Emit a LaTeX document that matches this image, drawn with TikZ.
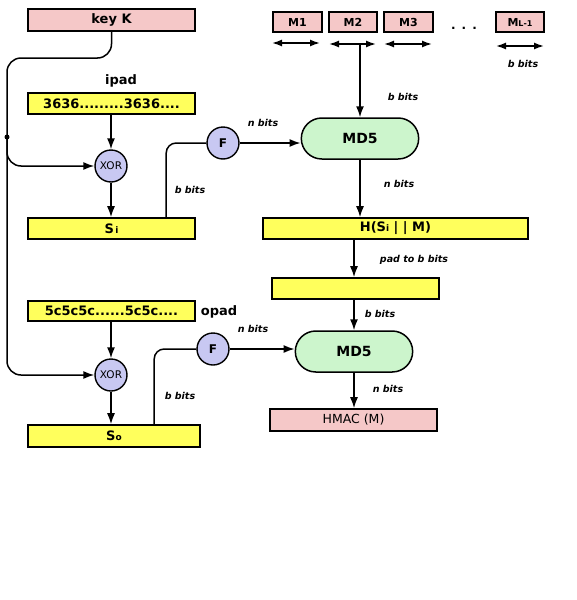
\documentclass[tikz,border=0pt]{standalone}
\usepackage{fontspec}
\setmainfont{DejaVu Sans}
\usetikzlibrary{arrows.meta,shapes.misc,calc}
\definecolor{pinkbox}{HTML}{F5C8C8}
\definecolor{yelbox}{HTML}{FFFF5C}
\definecolor{grnbox}{HTML}{CCF5CC}
\definecolor{lavc}{HTML}{C8C8F2}
\tikzset{
  box/.style={draw, line width=1.6pt, inner sep=0pt, font=\bfseries\fontsize{13}{15}\selectfont},
  ybox/.style={box, fill=yelbox},
  pbox/.style={box, fill=pinkbox},
  md/.style={draw, line width=1.5pt, rounded rectangle, fill=grnbox, minimum width=124pt, minimum height=41pt, font=\bfseries\fontsize{14}{16}\selectfont},
  circ/.style={draw, line width=1.4pt, circle, fill=lavc, minimum size=32pt, inner sep=0pt},
  lbl/.style={font=\bfseries\itshape\fontsize{9.5}{11}\selectfont},
  big/.style={font=\bfseries\fontsize{13}{15}\selectfont},
  mbox/.style={pbox, minimum height=20pt, font=\bfseries\fontsize{11}{13}\selectfont},
  tip/.style={-{Latex[length=11pt,width=8pt]}},
  arr/.style={line width=1.5pt, tip},
  darr/.style={line width=1.5pt, {Latex[length=10pt,width=7pt]}-{Latex[length=10pt,width=7pt]}},
  ln/.style={line width=1.5pt}
}
\begin{document}
\begin{tikzpicture}[x=1pt,y=-1pt]
\useasboundingbox[fill=white] (0,0) rectangle (576,600);
% left column
\node[pbox, minimum width=167pt, minimum height=22pt] (keyK) at (111.5,20) {key K};
\node[big] (ipad) at (121,81) {ipad};
\node[ybox, minimum width=167pt, minimum height=21pt] (ipadbox) at (111.5,103.5) {3636.........3636....};
\node[circ, font=\fontsize{10.5}{12}\selectfont] (xor1) at (111,166) {XOR};
\node[ybox, minimum width=167pt, minimum height=21pt] (si) at (111.5,228.5) {S{\fontsize{9}{10}\selectfont\,i}};
\node[circ, font=\bfseries\fontsize{12}{14}\selectfont] (f1) at (223,143) {F};
\node[lbl] (nb1) at (263,123) {n bits};
\node[lbl] (bb1) at (190,190) {b bits};

\node[ybox, minimum width=167pt, minimum height=20pt] (opadbox) at (111.5,311) {5c5c5c......5c5c....};
\node[big] (opad) at (219,312) {opad};
\node[circ, font=\fontsize{10.5}{12}\selectfont] (xor2) at (111,375) {XOR};
\node[ybox, minimum width=172pt, minimum height=22pt] (so) at (114,436) {S{\fontsize{9}{10}\selectfont o}};
\node[circ, font=\bfseries\fontsize{12}{14}\selectfont] (f2) at (213,349) {F};
\node[lbl] (nb2) at (253,329) {n bits};
\node[lbl] (bb2) at (180,396) {b bits};

% message blocks
\node[mbox, minimum width=49pt] (m1) at (297.5,22) {M1};
\node[mbox, minimum width=48pt] (m2) at (353,22) {M2};
\node[mbox, minimum width=49pt] (m3) at (408.5,22) {M3};
\node[mbox, minimum width=48pt] (ml) at (520,22) {M{\fontsize{8}{9}\selectfont L-1}};
\node[font=\bfseries\fontsize{12}{14}\selectfont] (dots) at (464,28) {.\hspace{6pt}.\hspace{6pt}.};
\coordinate (a1l) at (272,43); \coordinate (a1r) at (320,43);
\coordinate (a2l) at (329,44); \coordinate (a2r) at (376,44);
\coordinate (a3l) at (384,44); \coordinate (a3r) at (432,44);
\coordinate (a4l) at (496,46); \coordinate (a4r) at (544,46);
\draw[darr] (a1l) -- (a1r);
\draw[darr] (a2l) -- (a2r);
\draw[darr] (a3l) -- (a3r);
\draw[darr] (a4l) -- (a4r);
\node[lbl] (bbm) at (523,64) {b bits};
\coordinate (m2d) at (360,44);

% right column
\node[md] (md1) at (360,138.5) {MD5};
\node[lbl] (bb3) at (403,97) {b bits};
\node[lbl] (nb3) at (399,184) {n bits};
\node[ybox, minimum width=265pt, minimum height=21pt] (h) at (395.5,228.5) {H(S{\fontsize{9}{10}\selectfont i} | | M)};
\node[lbl] (pad) at (414,260) {pad to b bits};
\node[ybox, minimum width=167pt, minimum height=21pt] (padbox) at (355.5,288.5) {};
\node[lbl] (bb4) at (380,314) {b bits};
\node[md] (md2) at (354,351.5) {MD5};
\node[lbl] (nb4) at (388,389) {n bits};
\node[pbox, minimum width=167pt, minimum height=22pt, font=\fontsize{12.5}{14}\selectfont] (hmac) at (353.5,420) {HMAC (M)};

% connectors
\coordinate (jn) at (7,137);
\draw[arr, rounded corners=14pt] (keyK.south) |- (7,58) |- (xor2.west);
\draw[arr, rounded corners=14pt] (jn) |- (xor1.west);
\fill (jn) circle (2.5pt);
\draw[arr] (ipadbox.south -| xor1) -- (xor1.north);
\draw[arr] (xor1.south) -- (si.north -| xor1);
\draw[arr] (opadbox.south -| xor2) -- (xor2.north);
\draw[arr] (xor2.south) -- (so.north -| xor2);
\draw[ln, rounded corners=10pt] ($(si.north west)+(139,0)$) |- (f1.west);
\draw[arr] (f1.east) -- (f1.east -| md1.west);
\draw[ln, rounded corners=10pt] ($(so.north west)+(127,0)$) |- (f2.west);
\draw[arr] (f2.east) -- (f2.east -| md2.west);
\draw[arr] (m2d) -- (md1.north);
\draw[arr] (md1.south) -- (h.north -| md1);
\draw[arr] (h.south -| md2) -- (padbox.north -| md2);
\draw[arr] (padbox.south -| md2) -- (md2.north);
\draw[arr] (md2.south) -- (hmac.north -| md2);
\end{tikzpicture}
\end{document}
